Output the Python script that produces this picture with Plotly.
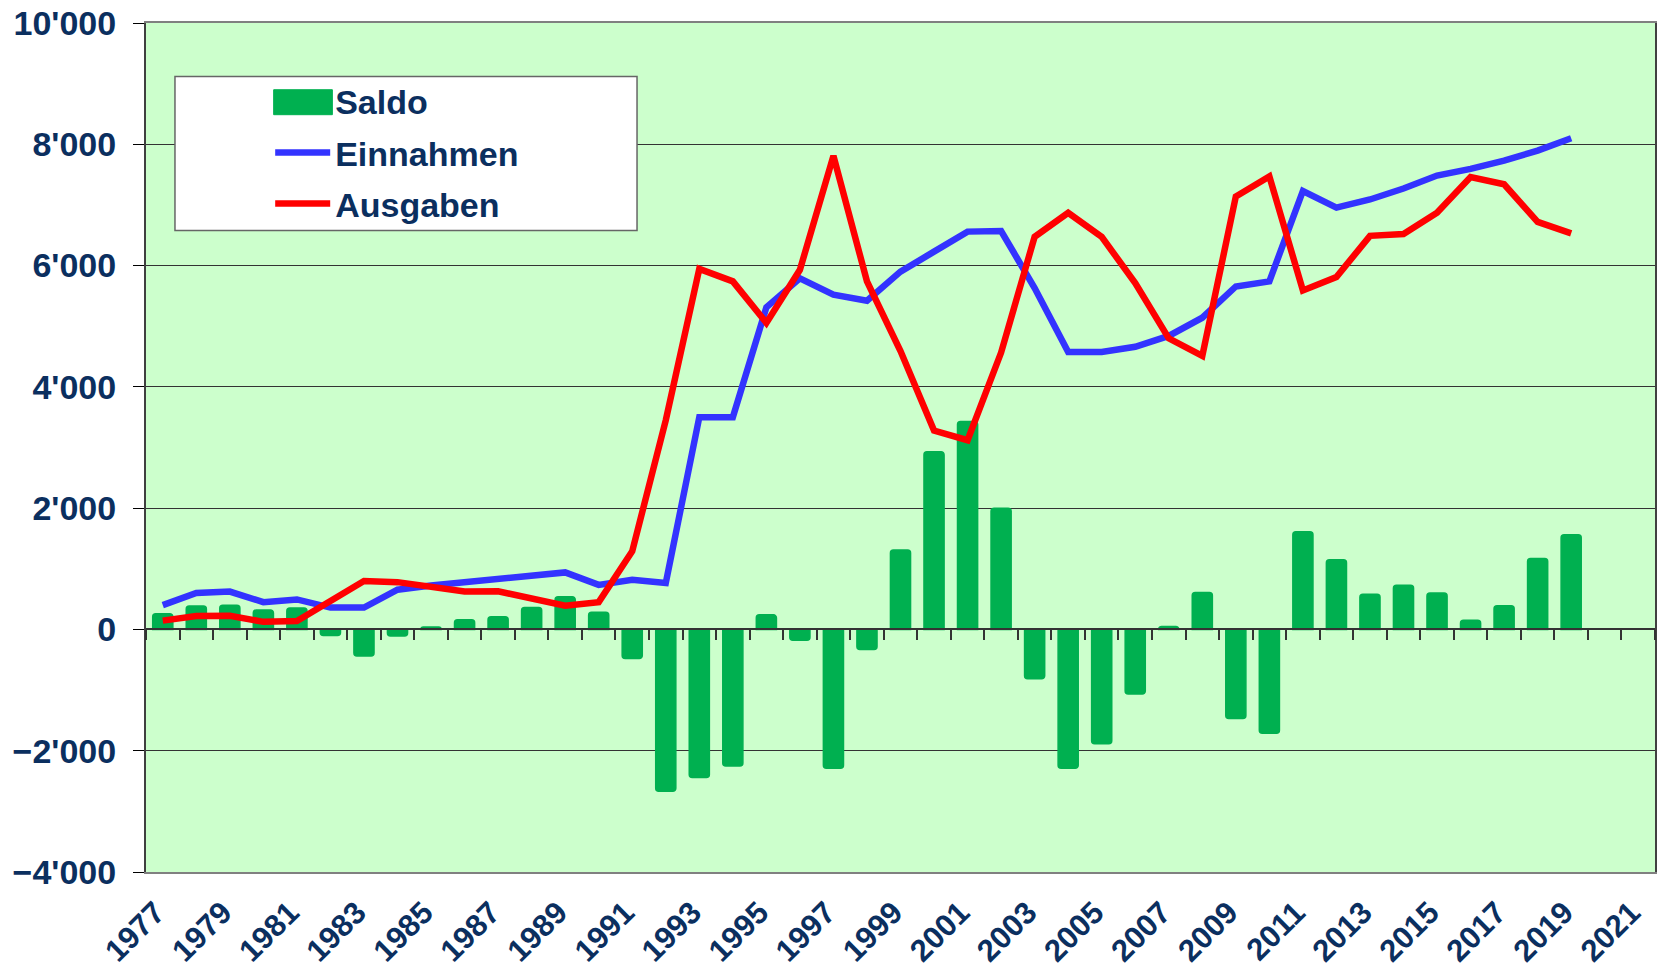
import plotly.graph_objects as go

# ---- data ----
categories = [str(y) for y in range(1977, 2022)]
data_years = [str(y) for y in range(1977, 2020)]
tick_labels = [str(y) for y in range(1977, 2022, 2)]

saldo = [260, 385, 400, 320, 355, -100, -440, -110, 40, 160,
         210, 360, 540, 285, -480, -2670, -2440, -2250, 240, -180,
         -2290, -330, 1310, 2930, 3430, 2000, -815, -2290, -1885, -1065,
         50, 610, -1470, -1710, 1610, 1150, 580, 730, 600, 150,
         390, 1170, 1560]

einnahmen = [400, 600, 625, 450, 495, 360, 360, 655, 725, 775,
             830, 885, 940, 735, 820, 765, 3500, 3500, 5310, 5790,
             5520, 5420, 5900, 6230, 6560, 6570, 5630, 4575, 4575, 4660,
             4840, 5140, 5655, 5740, 7230, 6955, 7090, 7270, 7485, 7595,
             7730, 7895, 8100]

ausgaben = [145, 220, 225, 125, 140, 460, 800, 780, 710, 625,
            630, 515, 390, 450, 1290, 3450, 5945, 5740, 5055, 5930,
            7810, 5740, 4590, 3280, 3120, 4565, 6475, 6870, 6475, 5710,
            4800, 4510, 7140, 7470, 5590, 5810, 6490, 6520, 6870, 7460,
            7340, 6720, 6530]

navy = "#0B2F5F"
green = "#00B050"
font_family = "Liberation Sans, Arial, sans-serif"

fig = go.Figure()
# legend entry for the bars
fig.add_trace(go.Scatter(x=[None], y=[None], name="Saldo", mode="lines",
                         line=dict(color=green, width=25), legendgroup="a",
                         xaxis="x2", yaxis="y", hoverinfo="skip"))
fig.add_trace(go.Bar(x=data_years, y=saldo, name="Saldo", showlegend=False,
                     legendgroup="a",
                     marker=dict(color=green, cornerradius=3,
                                 line=dict(color=green, width=1.5)),
                     xaxis="x", yaxis="y"))
fig.add_trace(go.Scatter(x=data_years, y=einnahmen, name="Einnahmen", mode="lines",
                         line=dict(color="#3333FF", width=6.5), legendgroup="b",
                         xaxis="x2", yaxis="y"))
fig.add_trace(go.Scatter(x=data_years, y=ausgaben, name="Ausgaben", mode="lines",
                         line=dict(color="#FF0000", width=6.5), legendgroup="c",
                         xaxis="x2", yaxis="y"))

xrange = [-0.5, len(categories) - 0.5]
fig.update_layout(
    width=1658, height=980,
    margin=dict(l=146, r=3, t=23, b=108, autoexpand=False),
    paper_bgcolor="white",
    plot_bgcolor="#CCFFCC",
    separators=".'",
    bargap=0.4,
    showlegend=True,
    xaxis=dict(type="category", categoryorder="array", categoryarray=categories,
               range=xrange, tickmode="array", tickvals=tick_labels, ticktext=tick_labels,
               tickangle=-45, ticks="", showgrid=False, showline=True, automargin=False,
               linecolor="#808080", linewidth=2, mirror=True, ticklabelshift=-7,
               ticklabelstandoff=8, ticklabeloverflow="allow",
               tickfont=dict(family=font_family, size=31, color=navy, weight="bold")),
    xaxis2=dict(type="category", categoryorder="array", categoryarray=categories,
                range=xrange, overlaying="x", anchor="free", position=4 / 14,
                side="bottom", showline=True, linecolor="#333333", linewidth=1.5,
                ticks="outside", ticklen=10, tickcolor="#333333", tickwidth=1.5,
                tickson="boundaries", tickmode="array", tickvals=categories,
                showticklabels=False, showgrid=False, zeroline=False, automargin=False),
    yaxis=dict(range=[-4000, 10000], dtick=2000, tick0=0, tickformat=",d",
               showgrid=True, gridcolor="#333333", gridwidth=1, zeroline=False,
               showline=True, linecolor="#404040", linewidth=2, mirror=True,
               ticks="outside", ticklen=11, tickcolor="#000000", automargin=False,
               ticklabelstandoff=10, ticklabeloverflow="allow",
               tickfont=dict(family=font_family, size=34, color=navy, weight="bold")),
    legend=dict(x=0.0823, y=0.9416, xanchor="left", yanchor="top",
                bgcolor="rgba(0,0,0,0)", borderwidth=0, tracegroupgap=4,
                itemwidth=55, traceorder="grouped",
                font=dict(family=font_family, size=34, color=navy, weight="bold")),
    shapes=[dict(type="rect", xref="paper", yref="paper",
                 x0=0.0192, x1=0.3254, y0=0.7557, y1=0.9371,
                 fillcolor="white", line=dict(color="#666666", width=1.5),
                 layer="above"),
            # wide key block of the legend entry "Saldo"
            dict(type="rect", xref="paper", yref="paper",
                 x0=0.0846, x1=0.1235, y0=0.892, y1=0.9214,
                 fillcolor=green, line=dict(color=green, width=1),
                 layer="above")],
)

# remove the default page margin so the figure sits at the window's top-left corner
fig.write_html("out.html",
               config={"displayModeBar": False},
               post_script="document.body.style.margin='0';document.body.style.overflow='hidden';")
